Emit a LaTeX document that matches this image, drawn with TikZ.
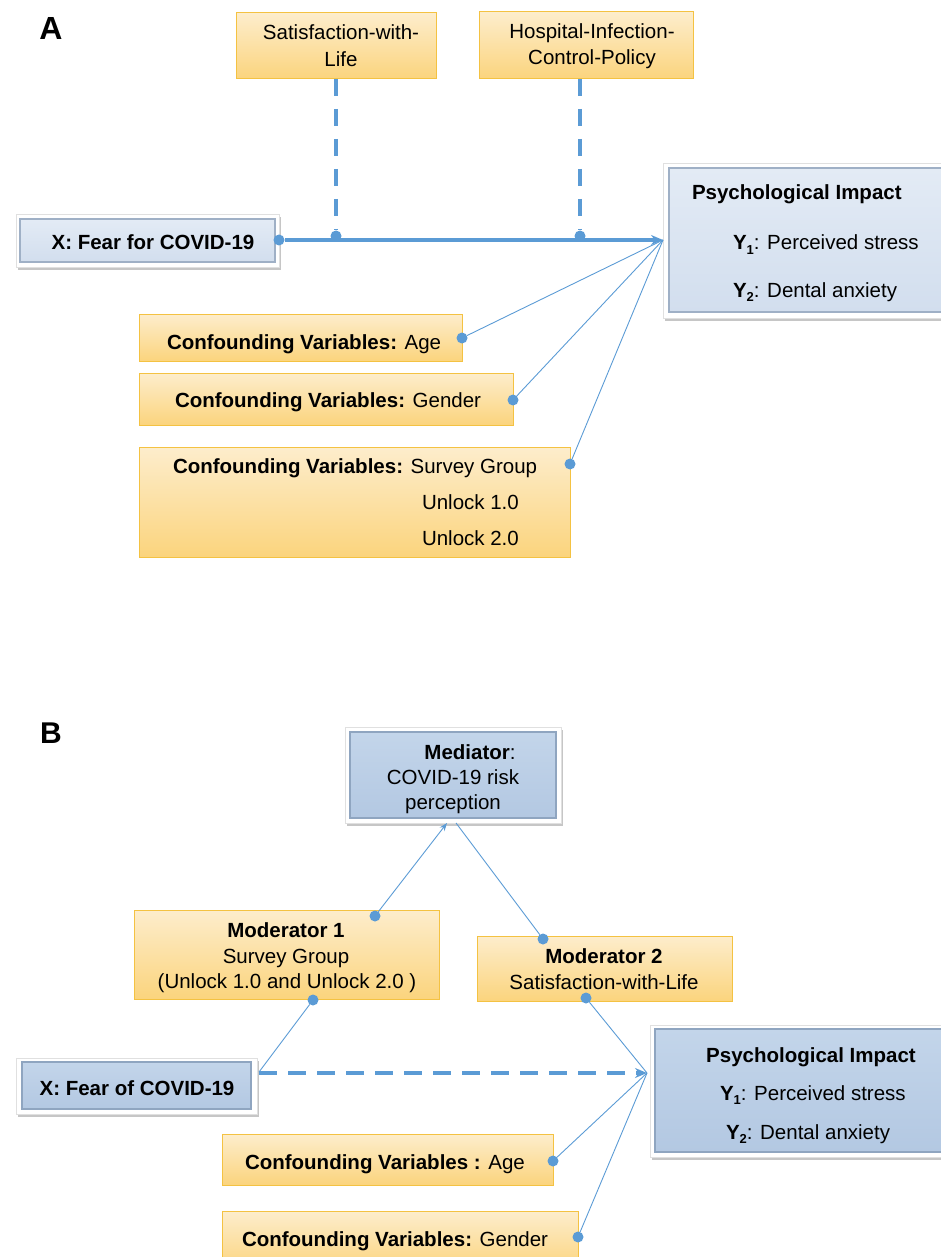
\documentclass[tikz,border=0pt]{standalone}
\usepackage{fontspec}
\setmainfont{Liberation Sans}
\usetikzlibrary{arrows.meta,shadows}
\definecolor{orTop}{HTML}{FDEDCC}
\definecolor{orBot}{HTML}{FBD47D}
\definecolor{orBorder}{HTML}{F4C242}
\definecolor{blueAtop}{HTML}{E3EBF5}
\definecolor{blueAbot}{HTML}{D2DEEE}
\definecolor{blueAedge}{HTML}{9FB0C6}
\definecolor{blueBtop}{HTML}{C3D5EA}
\definecolor{blueBbot}{HTML}{B3C8E2}
\definecolor{blueBedge}{HTML}{8FA5C0}
\definecolor{lineblue}{HTML}{5B9BD5}
\newcommand\myfs{\fontsize{20.5}{27}\selectfont}
\newcommand\ysub[1]{\raisebox{-0.22em}{\fontsize{13}{13}\selectfont\bfseries #1}}
\begin{document}
\begin{tikzpicture}[x=1pt,y=-1pt,
  obox/.style={draw=orBorder, line width=1pt, top color=orTop, bottom color=orBot, inner sep=0, outer sep=0, anchor=north west},
  wframe/.style={fill=white, draw=black!12, line width=0.8pt, drop shadow={shadow xshift=1.5pt, shadow yshift=-3pt, opacity=0.45}, inner sep=0, outer sep=0, anchor=north west},
  bboxA/.style={top color=blueAtop, bottom color=blueAbot, draw=blueAedge, line width=1.5pt, inner sep=0, outer sep=0, anchor=north west},
  bboxB/.style={top color=blueBtop, bottom color=blueBbot, draw=blueBedge, line width=1.5pt, inner sep=0, outer sep=0, anchor=north west},
  txt/.style={inner sep=0, outer sep=0, font=\myfs},
  dot/.style={circle, fill=lineblue, inner sep=0, outer sep=0, minimum size=11pt},
  thinl/.style={draw=lineblue, line width=0.9pt},
  thickl/.style={draw=lineblue, line width=3.8pt},
  dashl/.style={draw=lineblue, line width=3.8pt, dash pattern=on 17pt off 13pt},
  dashlB/.style={draw=lineblue, line width=3.8pt, dash pattern=on 18pt off 11pt},
  bigarrow/.style={-{Stealth[length=12pt,width=10pt]}},
  smallarrow/.style={-{Stealth[length=8pt,width=6pt]}}
]
\useasboundingbox (0,0) rectangle (941,1257);

% ---------------- Panel A ----------------
\node[txt, font=\fontsize{32}{32}\selectfont\bfseries, anchor=base] (labA) at (51,40) {A};

\node[obox, minimum width=200pt, minimum height=66pt] (sat) at (236,13) {};
\node[txt, anchor=base] (satT1) at (341,40) {Satisfaction-with-};
\node[txt, anchor=base] (satT2) at (341,67) {Life};
\node[obox, minimum width=214pt, minimum height=67pt] (hosp) at (479,12) {};
\node[txt, anchor=base] (hospT1) at (592,39) {Hospital-Infection-};
\node[txt, anchor=base] (hospT2) at (592,65) {Control-Policy};

\node[wframe, minimum width=263pt, minimum height=53pt] (xAo) at (16,214) {};
\node[bboxA, minimum width=255pt, minimum height=43pt] (xA) at (20,219) {};
\node[txt, font=\myfs\bfseries, anchor=base] (xAT) at (153,250) {X: Fear for COVID-19};

\node[wframe, minimum width=300pt, minimum height=155pt] (psAo) at (663,163) {};
\node[bboxA, minimum width=300pt, minimum height=144pt] (psA) at (669,168) {};
\node[txt, font=\myfs\bfseries, anchor=base west] (psAT) at (692,200) {Psychological Impact};
\node[txt, anchor=base west] (psAY1) at (733,250) {\textbf{Y}\ysub{1}: Perceived stress};
\node[txt, anchor=base west] (psAY2) at (733,297) {\textbf{Y}\ysub{2}: Dental anxiety};

\node[obox, minimum width=323pt, minimum height=47pt] (ageA) at (139,314) {};
\node[txt, anchor=base west] (ageAT) at (167,349) {\textbf{Confounding Variables:} Age};
\node[obox, minimum width=374pt, minimum height=52pt] (genA) at (139,373) {};
\node[txt, anchor=base west] (genAT) at (175,407) {\textbf{Confounding Variables:} Gender};
\node[obox, minimum width=431pt, minimum height=110pt] (surA) at (139,447) {};
\node[txt, anchor=base west] (surAT) at (173,473) {\textbf{Confounding Variables:} Survey Group};
\node[txt, anchor=base west] (surAT1) at (422,509) {Unlock 1.0};
\node[txt, anchor=base west] (surAT2) at (422,545) {Unlock 2.0};

\coordinate (pA) at (663,240);
\node[dot] (dA0) at (279,240) {};
\node[dot] (dA1) at (336,236) {};
\node[dot] (dA2) at (580,236) {};
\node[dot] (dAge) at (462,338) {};
\node[dot] (dGen) at (513,400) {};
\node[dot] (dSur) at (570,464) {};

\draw[dashl] (sat.south) -- (dA1);
\draw[dashl] (hosp.south -| dA2) -- (dA2);
\draw[thickl, bigarrow] (dA0) -- (pA);
\draw[thinl] (dAge) -- (pA);
\draw[thinl] (dGen) -- (pA);
\draw[thinl] (dSur) -- (pA);

% ---------------- Panel B ----------------
\node[txt, font=\fontsize{30}{30}\selectfont\bfseries, anchor=base] (labB) at (51,743) {B};

\node[wframe, minimum width=216pt, minimum height=96pt] (medo) at (345,727) {};
\node[bboxB, minimum width=206pt, minimum height=86pt] (med) at (350,732) {};
\node[txt, anchor=base] (medT1) at (470,759) {\textbf{Mediator}:};
\node[txt, anchor=base] (medT2) at (453,784) {COVID-19 risk};
\node[txt, anchor=base] (medT3) at (453,809) {perception};

\node[obox, minimum width=305pt, minimum height=89pt] (mod1) at (134,910) {};
\node[txt, font=\myfs\bfseries, anchor=base] (mod1T1) at (286,937) {Moderator 1};
\node[txt, anchor=base] (mod1T2) at (286,963) {Survey Group};
\node[txt, anchor=base] (mod1T3) at (287,988) {(Unlock 1.0 and Unlock 2.0 )};

\node[obox, minimum width=255pt, minimum height=65pt] (mod2) at (477,936) {};
\node[txt, font=\myfs\bfseries, anchor=base] (mod2T1) at (604,963) {Moderator 2};
\node[txt, anchor=base] (mod2T2) at (604,989) {Satisfaction-with-Life};

\node[wframe, minimum width=241pt, minimum height=56pt] (xBo) at (16,1058) {};
\node[bboxB, minimum width=229pt, minimum height=47pt] (xB) at (22,1062) {};
\node[txt, font=\myfs\bfseries, anchor=base] (xBT) at (137,1095) {X: Fear of COVID-19};

\node[wframe, minimum width=300pt, minimum height=132pt] (psBo) at (650,1025) {};
\node[bboxB, minimum width=300pt, minimum height=123pt] (psB) at (655,1029) {};
\node[txt, font=\myfs\bfseries, anchor=base] (psBT) at (811,1062) {Psychological Impact};
\node[txt, anchor=base west] (psBY1) at (720,1100) {\textbf{Y}\ysub{1}: Perceived stress};
\node[txt, anchor=base west] (psBY2) at (726,1139) {\textbf{Y}\ysub{2}: Dental anxiety};

\node[obox, minimum width=331pt, minimum height=51pt] (ageB) at (222,1134) {};
\node[txt, anchor=base west] (ageBT) at (245,1169) {\textbf{Confounding Variables :} Age};
\node[obox, minimum width=356pt, minimum height=60pt] (genB) at (222,1211) {};
\node[txt, anchor=base west] (genBT) at (242,1246) {\textbf{Confounding Variables:} Gender};

\coordinate (pB) at (647,1073);
\coordinate (medIn) at (447,823);
\coordinate (medOut) at (456,823);
\coordinate (xBr) at (259,1072);
\coordinate (xBd) at (259,1073);
\node[dot] (dM1t) at (375,916) {};
\node[dot] (dM1b) at (313,1000) {};
\node[dot] (dM2t) at (543,939) {};
\node[dot] (dM2b) at (586,998) {};
\node[dot] (dAgeB) at (553,1161) {};
\node[dot] (dGenB) at (578,1237) {};

\draw[thinl, smallarrow] (dM1t) -- (medIn);
\draw[thinl] (medOut) -- (dM2t);
\draw[thinl] (dM1b) -- (xBr);
\draw[thinl] (dM2b) -- (pB);
\draw[dashlB, bigarrow] (xBd) -- (pB);
\draw[thinl] (dAgeB) -- (pB);
\draw[thinl] (dGenB) -- (pB);
\end{tikzpicture}
\end{document}
